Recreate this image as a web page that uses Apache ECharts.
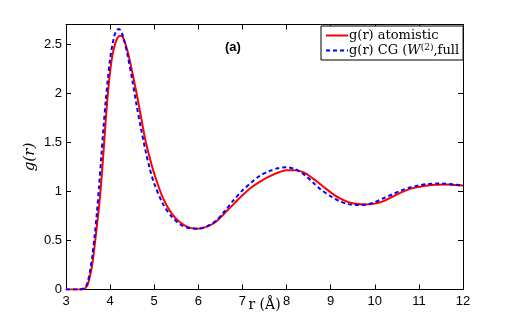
<!DOCTYPE html>
<html>
<head>
<meta charset="utf-8">
<script src="https://cdn.jsdelivr.net/npm/echarts@6/dist/echarts.min.js"></script>
<style>
  html, body { margin: 0; padding: 0; background: #fff; }
  #chart { width: 512px; height: 326px; }
</style>
</head>
<body>
<div id="chart"></div>
<script>
// r grid (Å) shared by both curves
const rGrid = [3.0, 3.3, 3.4, 3.45, 3.5, 3.55, 3.6, 3.65, 3.7, 3.75, 3.8, 3.85, 3.9, 3.95,
  4.0, 4.05, 4.1, 4.15, 4.2, 4.25, 4.3, 4.4, 4.5, 4.6, 4.7, 4.8, 4.9, 5.0, 5.2, 5.4, 5.6, 5.8,
  6.0, 6.2, 6.4, 6.6, 6.8, 7.0, 7.2, 7.4, 7.6, 7.8, 8.0, 8.2, 8.4, 8.6, 8.8, 9.0, 9.2, 9.4,
  9.6, 9.8, 10.0, 10.2, 10.4, 10.6, 10.8, 11.0, 11.2, 11.4, 11.6, 11.8, 12.0]

const gAtomistic = [0, 0, 0.005, 0.02, 0.06, 0.15, 0.27, 0.45, 0.65, 0.85, 1.1, 1.4, 1.72, 2.0,
  2.22, 2.38, 2.48, 2.55, 2.58, 2.585, 2.56, 2.42, 2.22, 2.0, 1.76, 1.52, 1.34, 1.18, 0.93, 0.77, 0.68, 0.63,
  0.62, 0.64, 0.69, 0.78, 0.87, 0.96, 1.04, 1.1, 1.15, 1.19, 1.215, 1.215, 1.19, 1.13, 1.06, 0.99, 0.93, 0.89,
  0.87, 0.865, 0.875, 0.9, 0.945, 0.99, 1.025, 1.045, 1.06, 1.068, 1.07, 1.065, 1.06]

const gCG = [0, 0, 0.01, 0.03, 0.09, 0.2, 0.35, 0.55, 0.78, 1.05, 1.35, 1.65, 1.92, 2.15,
  2.35, 2.49, 2.59, 2.64, 2.655, 2.63, 2.57, 2.38, 2.14, 1.88, 1.64, 1.42, 1.23, 1.08, 0.87, 0.74, 0.66, 0.625,
  0.62, 0.645, 0.7, 0.8, 0.91, 1.01, 1.09, 1.16, 1.205, 1.235, 1.245, 1.225, 1.17, 1.09, 1.01, 0.95, 0.9, 0.87,
  0.86, 0.865, 0.89, 0.93, 0.97, 1.01, 1.04, 1.06, 1.075, 1.08, 1.078, 1.07, 1.06]

const xTicks = [3, 12, 1]
const yTicks = [0, 2.7, 0.5]

const nameAtom = 'g(r) atomistic'
const nameCG = 'g(r) CG (W(2),full)'

const chart = echarts.init(document.getElementById('chart'))

function pairs(ys) {
  return rGrid.map((r, i) => [r, ys[i]])
}

const tickFont = { color: '#000', fontFamily: 'Liberation Sans', fontSize: 13 }

function xAxisCfg(pos, labels) {
  return {
    type: 'value', position: pos, min: xTicks[0], max: xTicks[1], interval: xTicks[2],
    axisLine: { onZero: false, lineStyle: { color: '#000', width: 1 } },
    axisTick: { inside: true, length: 5, lineStyle: { color: '#000' } },
    axisLabel: Object.assign({ show: labels, margin: 5 }, tickFont),
    splitLine: { show: false }
  }
}

function yAxisCfg(pos, labels) {
  return {
    type: 'value', position: pos, min: yTicks[0], max: yTicks[1], interval: yTicks[2],
    axisLine: { onZero: false, lineStyle: { color: '#000', width: 1 } },
    axisTick: { inside: true, length: 5, lineStyle: { color: '#000' } },
    axisLabel: Object.assign({ show: labels, margin: 4, showMaxLabel: false }, tickFont),
    splitLine: { show: false }
  }
}

const xBottom = xAxisCfg('bottom', true)
xBottom.name = 'r (Å)'
xBottom.nameLocation = 'middle'
xBottom.nameGap = 9
xBottom.nameMoveOverlap = false
xBottom.nameTextStyle = { color: '#000', fontFamily: 'DejaVu Serif', fontSize: 14, verticalAlign: 'top' }

const yLeft = yAxisCfg('left', true)
yLeft.name = 'g(r)'
yLeft.nameLocation = 'middle'
yLeft.nameGap = 28
yLeft.nameMoveOverlap = false
yLeft.nameTextStyle = { color: '#000', fontFamily: 'DejaVu Serif', fontStyle: 'italic', fontSize: 15 }

chart.setOption({
  animation: false,
  backgroundColor: '#fff',
  grid: { left: 66, right: 49, top: 24.5, bottom: 36.5, outerBoundsMode: 'none' },
  title: {
    text: '(a)', left: 220, top: 36,
    textStyle: { fontFamily: 'Liberation Sans', fontWeight: 'bold', fontSize: 13, color: '#000' }
  },
  legend: {
    left: 321, top: 26, orient: 'vertical',
    padding: [3, 4, 3, 4], itemGap: 1, itemWidth: 22, itemHeight: 12,
    backgroundColor: '#fff', borderColor: '#000', borderWidth: 1,
    itemStyle: { opacity: 0 },
    data: [nameAtom, nameCG],
    textStyle: {
      color: '#000', fontFamily: 'DejaVu Serif', fontSize: 13, padding: [0, 0, 0, -4],
      rich: {
        i: { fontFamily: 'DejaVu Serif', fontStyle: 'italic', fontSize: 13, color: '#000' },
        sup: { fontFamily: 'DejaVu Serif', fontSize: 9, color: '#000', verticalAlign: 'top', padding: [0, 0, 6, 0] }
      }
    },
    formatter: function (name) {
      if (name === nameCG) return 'g(r) CG ({i|W}{sup|(2)},full'
      return name
    }
  },
  xAxis: [xBottom, xAxisCfg('top', false)],
  yAxis: [yLeft, yAxisCfg('right', false)],
  series: [
    {
      name: nameAtom, type: 'line', data: pairs(gAtomistic), smooth: 0.3,
      symbol: 'none', lineStyle: { color: '#ff0000', width: 2 }, itemStyle: { color: '#ff0000' }, z: 3
    },
    {
      name: nameCG, type: 'line', data: pairs(gCG), smooth: 0.3,
      symbol: 'none', lineStyle: { color: '#0000ff', width: 2, type: [4, 3] }, itemStyle: { color: '#0000ff' }, z: 4
    }
  ]
})
</script>
</body>
</html>
